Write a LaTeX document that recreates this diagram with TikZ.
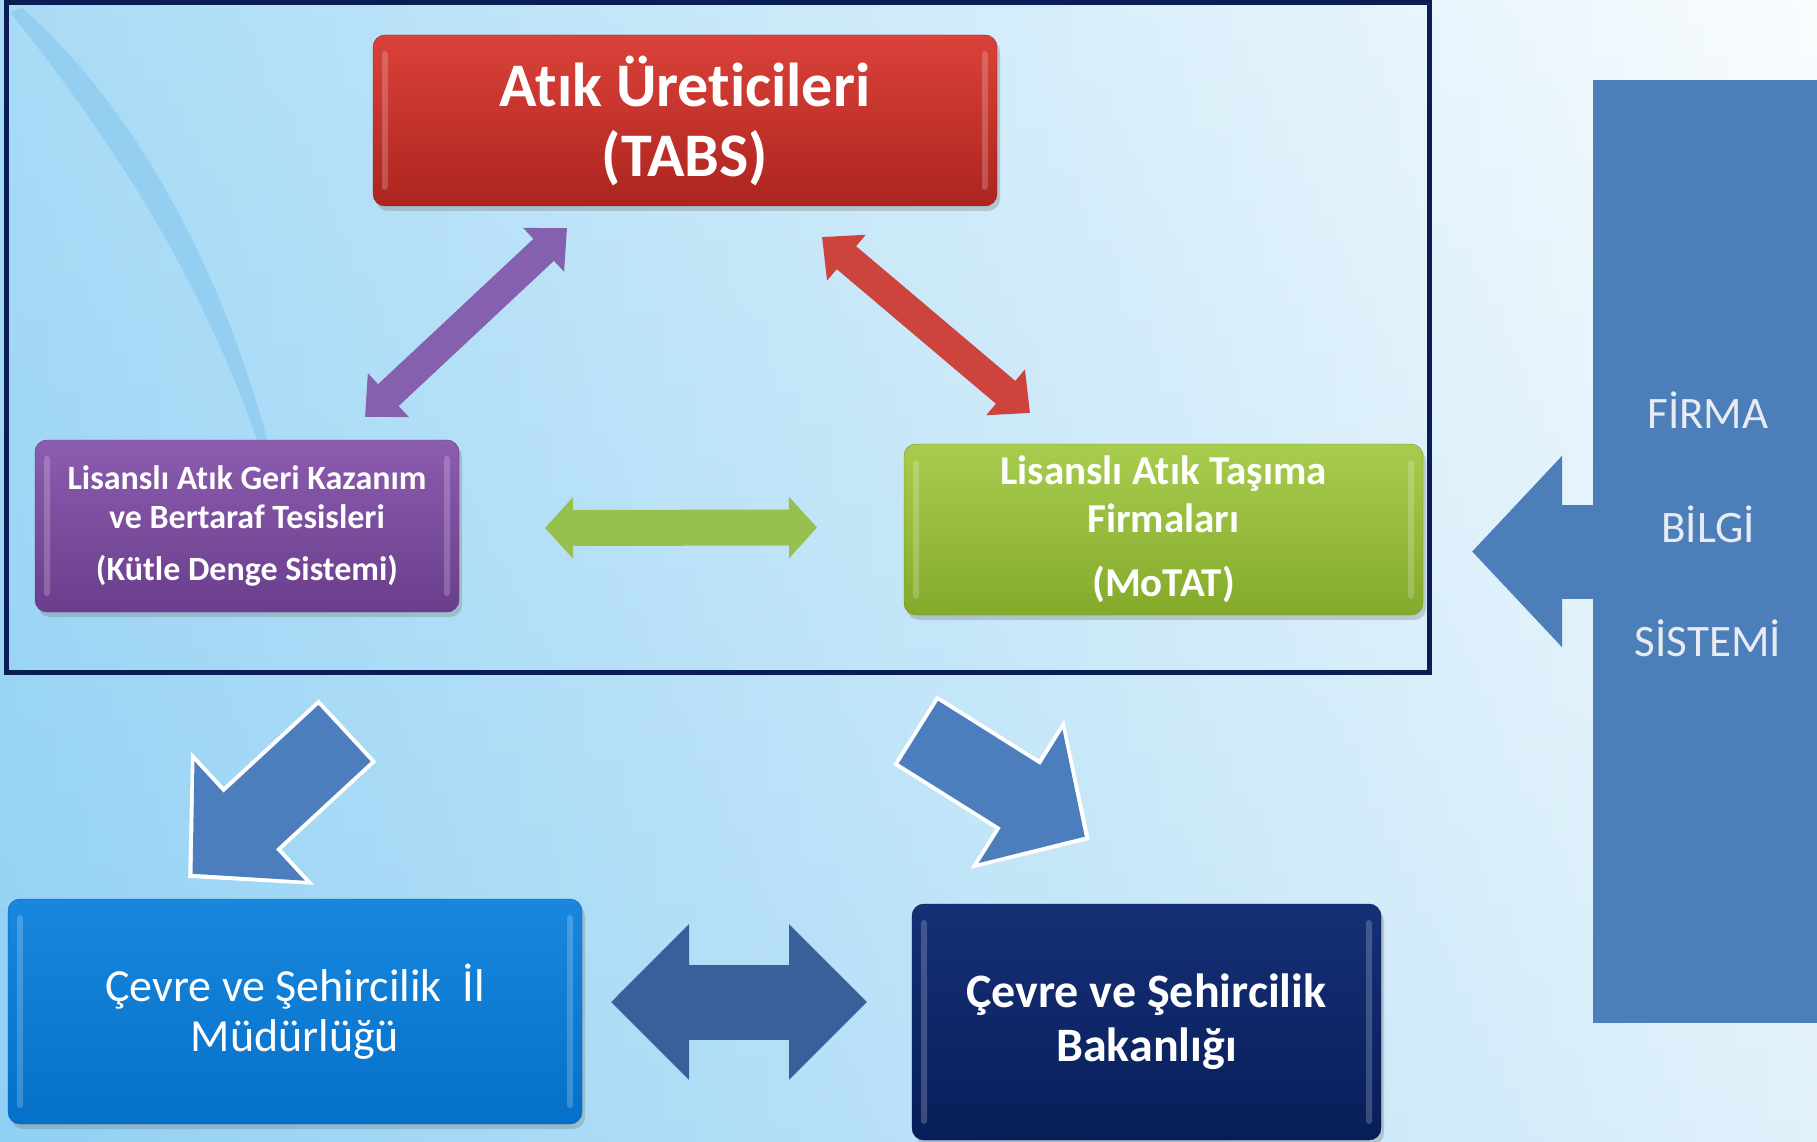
\documentclass[tikz,border=0pt]{standalone}
\usepackage{fontspec}
\setmainfont[Ligatures=NoCommon]{Carlito}
\usepackage{tikz}
\usetikzlibrary{arrows.meta}
\usetikzlibrary{shadows}

\definecolor{arkasol}{RGB}{122,200,242}
\definecolor{arkaorta}{RGB}{212,236,250}
\definecolor{arkasag}{RGB}{247,251,253}
\definecolor{arkaalt}{RGB}{185,224,248}
\definecolor{cizgimavi}{RGB}{70,160,225}
\definecolor{cerceverengi}{RGB}{10,30,85}
\definecolor{kirmiziust}{RGB}{218,66,58}
\definecolor{kirmizialt}{RGB}{172,36,30}
\definecolor{morust}{RGB}{140,92,175}
\definecolor{moralt}{RGB}{106,62,140}
\definecolor{yesilust}{RGB}{168,204,78}
\definecolor{yesilalt}{RGB}{132,170,44}
\definecolor{maviust}{RGB}{25,135,222}
\definecolor{mavialt}{RGB}{5,112,200}
\definecolor{laciust}{RGB}{22,48,118}
\definecolor{lacialt}{RGB}{8,30,90}
\definecolor{okmor}{RGB}{132,96,175}
\definecolor{okkirmizi}{RGB}{205,68,62}
\definecolor{okyesil}{RGB}{152,192,78}
\definecolor{okmavi}{RGB}{76,126,190}
\definecolor{oklaci}{RGB}{58,96,155}
\definecolor{firmamavi}{RGB}{76,127,186}
\definecolor{firmayazi}{RGB}{232,236,242}

\tikzset{
  kutu/.style={rounded corners=12pt, inner sep=0pt, outer sep=0pt, align=center,
    text=white, drop shadow={opacity=.35, shadow xshift=3pt, shadow yshift=-5pt},
    path picture={
      \fill[white, opacity=.2, rounded corners=3pt]
        ([xshift=9pt, yshift=-16pt]path picture bounding box.north west) rectangle
        ([xshift=15pt, yshift=16pt]path picture bounding box.south west);
      \fill[white, opacity=.2, rounded corners=3pt]
        ([xshift=-15pt, yshift=-16pt]path picture bounding box.north east) rectangle
        ([xshift=-9pt, yshift=16pt]path picture bounding box.south east);
    }},
  ok/.style n args={3}{line width=#1, arrows={-{Triangle[length=#2, width=#3]}}},
  ciftok/.style n args={3}{line width=#1,
    arrows={{Triangle[length=#2, width=#3]}-{Triangle[length=#2, width=#3]}}},
}

\begin{document}
\begin{tikzpicture}[x=1pt,y=-1pt]
        \useasboundingbox (0,0) rectangle (1817,1142);
        \shade[left color=arkasol, middle color=arkaorta, right color=arkasag] (0,0) rectangle (1817,1142);
        \shade[top color=white, bottom color=arkaalt, fill opacity=.35] (0,0) rectangle (1817,1142);
        \fill[cizgimavi, opacity=.22] (22,8) .. controls (150,120) and (262,330) .. (300,600)
          .. controls (250,340) and (120,150) .. (10,12) -- cycle;

        \node[draw=cerceverengi, line width=5pt, inner sep=0pt, outer sep=0pt,
          minimum width=1423pt, minimum height=669pt] (cerceve) at (717.5,337.5) {};

        \node[kutu, top color=kirmiziust, bottom color=kirmizialt, draw=kirmizialt!85!black,
          minimum width=624pt, minimum height=171pt, font=\bfseries\fontsize{62}{70}\selectfont]
          (tabs) at (685,120.5) {Atık Üreticileri\\(TABS)};
        \node[kutu, top color=morust, bottom color=moralt, draw=moralt!85!black,
          minimum width=424pt, minimum height=172pt, font=\bfseries\fontsize{34}{39}\selectfont]
          (kds) at (247,526) {Lisanslı Atık Geri Kazanım\\ve Bertaraf Tesisleri\\[13pt](Kütle Denge Sistemi)};
        \node[kutu, top color=yesilust, bottom color=yesilalt, draw=yesilalt!85!black,
          minimum width=519pt, minimum height=171pt, font=\bfseries\fontsize{41}{48}\selectfont]
          (motat) at (1163.5,529.5) {Lisanslı Atık Taşıma\\Firmaları\\[16pt](MoTAT)};
        \node[kutu, top color=maviust, bottom color=mavialt, draw=mavialt!85!black,
          minimum width=574pt, minimum height=225pt, font=\fontsize{46}{50}\selectfont]
          (ilmud) at (295,1011.5) {Çevre ve Şehircilik\ \ İl\\Müdürlüğü};
        \node[kutu, top color=laciust, bottom color=lacialt, draw=lacialt!70!black,
          minimum width=469pt, minimum height=236pt, font=\bfseries\fontsize{48}{54}\selectfont]
          (bakanlik) at (1146.5,1022) {Çevre ve Şehircilik\\Bakanlığı};

        \node[fill=firmamavi, inner sep=0pt, outer sep=0pt, anchor=north west,
          minimum width=230pt, minimum height=943pt] (firma) at (1593,80) {};
        \draw[ok={94pt}{90pt}{186pt}, firmamavi] ([xshift=8pt]firma.west) -- ([shift={(49,22)}]motat.east);
        \node[text=firmayazi, align=center, font=\fontsize{45}{114}\selectfont]
          (firmayazi) at ([yshift=27pt]firma.center) {FİRMA\\BİLGİ\\SİSTEMİ};

        \draw[ciftok={30pt}{32pt}{58pt}, okmor] ([shift={(-118,22)}]tabs.south) -- ([shift={(118,-23)}]kds.north);
        \draw[ciftok={30pt}{32pt}{58pt}, okkirmizi] ([shift={(137,31)}]tabs.south) -- ([shift={(-133.5,-31)}]motat.north);
        \draw[ciftok={36pt}{28pt}{60pt}, okyesil] ([shift={(86,2)}]kds.east) -- ([shift={(-87,-2)}]motat.west);

        \draw[ok={85pt}{88pt}{176pt}, white] ([shift={(341.5,58.5)}]cerceve.south west) -- ([shift={(180,-21)}]ilmud.north west);
        \draw[ok={77pt}{78pt}{158pt}, okmavi, shorten >=6pt, shorten <=4pt] ([shift={(341.5,58.5)}]cerceve.south west) -- ([shift={(180,-21)}]ilmud.north west);
        \draw[ok={82pt}{86pt}{171pt}, white] ([shift={(909,58)}]cerceve.south west) -- ([shift={(-56.5,-64)}]bakanlik.north);
        \draw[ok={74pt}{76pt}{153pt}, okmavi, shorten >=6pt, shorten <=4pt] ([shift={(909,58)}]cerceve.south west) -- ([shift={(-56.5,-64)}]bakanlik.north);

        \draw[ciftok={75pt}{78pt}{151pt}, oklaci] ([shift={(29,-9.5)}]ilmud.east) -- ([shift={(-45,-20)}]bakanlik.west);
    \end{tikzpicture}
\end{document}
